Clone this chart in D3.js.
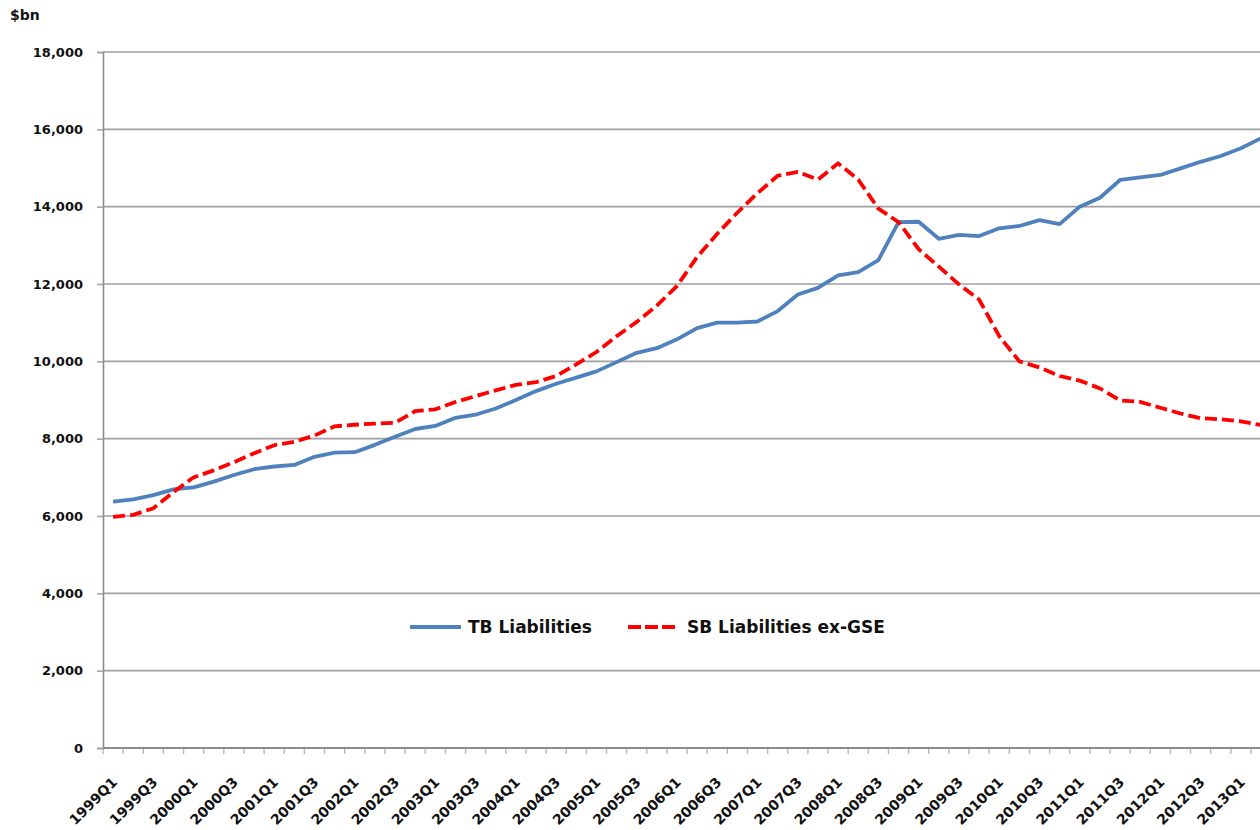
<!DOCTYPE html>
<html>
<head>
<meta charset="utf-8">
<script src="https://cdn.jsdelivr.net/npm/d3@7"></script>
<style>
  html, body { margin: 0; padding: 0; background: #fff; }
  svg { display: block; }
  .lbl { font-family: "DejaVu Sans", sans-serif; font-weight: bold; fill: #111; }
</style>
</head>
<body>
<svg id="chart" width="1260" height="830"></svg>
<script>
// Quarterly categories
const quarters = [
  "1999Q1","1999Q2","1999Q3","1999Q4","2000Q1","2000Q2","2000Q3","2000Q4",
  "2001Q1","2001Q2","2001Q3","2001Q4","2002Q1","2002Q2","2002Q3","2002Q4",
  "2003Q1","2003Q2","2003Q3","2003Q4","2004Q1","2004Q2","2004Q3","2004Q4",
  "2005Q1","2005Q2","2005Q3","2005Q4","2006Q1","2006Q2","2006Q3","2006Q4",
  "2007Q1","2007Q2","2007Q3","2007Q4","2008Q1","2008Q2","2008Q3","2008Q4",
  "2009Q1","2009Q2","2009Q3","2009Q4","2010Q1","2010Q2","2010Q3","2010Q4",
  "2011Q1","2011Q2","2011Q3","2011Q4","2012Q1","2012Q2","2012Q3","2012Q4",
  "2013Q1","2013Q2"
];

// Labelled categories on the x axis
const xTickLabels = [
  "1999Q1","1999Q3","2000Q1","2000Q3","2001Q1","2001Q3","2002Q1","2002Q3",
  "2003Q1","2003Q3","2004Q1","2004Q3","2005Q1","2005Q3","2006Q1","2006Q3",
  "2007Q1","2007Q3","2008Q1","2008Q3","2009Q1","2009Q3","2010Q1","2010Q3",
  "2011Q1","2011Q3","2012Q1","2012Q3","2013Q1"
];

// $bn
const tbLiabilities = [
  6370, 6430, 6540, 6690, 6740, 6890, 7060, 7210,
  7280, 7320, 7530, 7640, 7650, 7840, 8050, 8250,
  8330, 8540, 8620, 8780, 9000, 9230, 9420, 9580,
  9740, 9980, 10220, 10340, 10570, 10860, 11000, 11000,
  11030, 11300, 11730, 11900, 12220, 12310, 12620, 13600,
  13610, 13170, 13270, 13240, 13440, 13500, 13650, 13550,
  14000, 14230, 14690, 14760, 14820, 14990, 15160, 15310,
  15510, 15770
];

const sbLiabilitiesExGSE = [
  5980, 6030, 6200, 6620, 7000, 7180, 7390, 7620,
  7830, 7920, 8080, 8320, 8360, 8390, 8410, 8710,
  8760, 8950, 9100, 9250, 9390, 9460, 9620, 9920,
  10240, 10650, 11020, 11440, 11950, 12700, 13300, 13850,
  14350, 14800, 14900, 14700, 15120, 14700, 13950, 13600,
  12900, 12450, 11990, 11600, 10650, 10000, 9840, 9620,
  9500, 9300, 8990, 8950, 8800, 8650, 8530, 8500,
  8450, 8350
];

const yTicks = [0, 2000, 4000, 6000, 8000, 10000, 12000, 14000, 16000, 18000];

const seriesNames = ["TB Liabilities", "SB Liabilities ex-GSE"];

const svg = d3.select("#chart");
const W = 1260;
const plotLeft = 103, plotTop = 52, plotBottom = 748;
const step = 20.14;

const x = d3.scaleBand()
  .domain(quarters)
  .range([plotLeft, plotLeft + step * quarters.length])
  .padding(0);

const y = d3.scaleLinear().domain([0, 18000]).range([plotBottom, plotTop]);

// Horizontal gridlines
svg.append("g")
  .selectAll("line")
  .data(yTicks.filter(d => d > 0))
  .join("line")
  .attr("x1", plotLeft).attr("x2", W)
  .attr("y1", d => y(d)).attr("y2", d => y(d))
  .attr("stroke", "#a0a0a0")
  .attr("stroke-width", 1.7);

// Y axis
const yAxis = svg.append("g")
  .attr("transform", `translate(${plotLeft},0)`)
  .call(d3.axisLeft(y).tickValues(yTicks).tickFormat(d3.format(",")).tickSize(6).tickPadding(14));
yAxis.select(".domain").attr("stroke", "#8c8c8c").attr("stroke-width", 1.6);
yAxis.selectAll(".tick line").attr("stroke", "#a6a6a6").attr("stroke-width", 1.6);
yAxis.selectAll(".tick text")
  .attr("class", "lbl")
  .style("font-size", "13px");

// X axis: ticks between categories
svg.append("g")
  .selectAll("line")
  .data(quarters)
  .join("line")
  .attr("x1", d => x(d)).attr("x2", d => x(d))
  .attr("y1", plotBottom).attr("y2", plotBottom + 6)
  .attr("stroke", "#b8b8b8")
  .attr("stroke-width", 1.4);

const xAxis = svg.append("g")
  .attr("transform", `translate(0,${plotBottom})`)
  .call(d3.axisBottom(x).tickValues(xTickLabels).tickSize(0).tickSizeOuter(0));
xAxis.select(".domain").attr("stroke", "#8c8c8c").attr("stroke-width", 2)
  .attr("d", `M${plotLeft},0H${W}`);
xAxis.selectAll(".tick text")
  .attr("class", "lbl")
  .style("font-size", "14px")
  .attr("x", 0).attr("y", 0).attr("dy", 0)
  .attr("text-anchor", "end")
  .attr("transform", "translate(5,35) rotate(-45)");

// Series lines
const line = d3.line()
  .x((d, i) => x(quarters[i]) + x.bandwidth() / 2)
  .y(d => y(d));

svg.append("path")
  .datum(tbLiabilities)
  .attr("d", line)
  .attr("fill", "none")
  .attr("stroke", "#4f81bd")
  .attr("stroke-width", 3.8)
  .attr("stroke-linejoin", "round");

svg.append("path")
  .datum(sbLiabilitiesExGSE)
  .attr("d", line)
  .attr("fill", "none")
  .attr("stroke", "#ff0000")
  .attr("stroke-width", 3.8)
  .attr("stroke-dasharray", "12,5");

// Unit label
svg.append("text")
  .attr("class", "lbl")
  .attr("x", 10).attr("y", 20)
  .style("font-size", "14px")
  .text("$bn");

// Legend
const legend = svg.append("g");
legend.append("line")
  .attr("x1", 410).attr("x2", 461).attr("y1", 627).attr("y2", 627)
  .attr("stroke", "#4f81bd").attr("stroke-width", 3.8);
legend.append("text")
  .attr("class", "lbl")
  .attr("x", 468).attr("y", 633)
  .style("font-size", "17px")
  .text(seriesNames[0]);
legend.append("line")
  .attr("x1", 628).attr("x2", 675).attr("y1", 627).attr("y2", 627)
  .attr("stroke", "#ff0000").attr("stroke-width", 3.8)
  .attr("stroke-dasharray", "13,4");
legend.append("text")
  .attr("class", "lbl")
  .attr("x", 687).attr("y", 633)
  .style("font-size", "17px")
  .text(seriesNames[1]);
</script>
</body>
</html>
